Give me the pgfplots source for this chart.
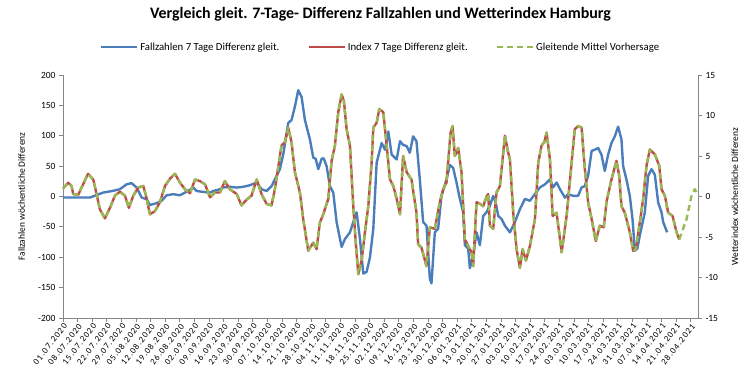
\documentclass[border=0pt]{standalone}
\usepackage{fontspec}
\setmainfont{Carlito}
\usepackage{pgfplots}
\pgfplotsset{compat=1.18}
\usepackage{pgfplotstable}
\definecolor{cblue}{HTML}{4A7EBB}
\definecolor{cred}{HTML}{BE4B48}
\definecolor{cgreen}{HTML}{98B954}
\definecolor{caxis}{HTML}{868686}

\pgfplotstableread{
day val
0 -1.6
5 -1.6
13 -1.6
19.3 6.5
24 9.3
27.3 12
30.5 20
32.9 22
35.3 14.7
37.7 -1.6
40.1 -4.4
41.7 -14
44.9 -11
47.3 -7
49.7 2
52.9 3.8
56.1 2
58.5 6.5
60.9 11
62.5 14.7
64.1 9
67.3 7.6
70.5 6.5
72 9
75.3 12
76.8 14.7
80 16
83.3 14.7
86.4 16
89.6 18.5
92.9 23
95.2 12
97.6 9
100 17
102.4 34
104 45
105.6 69
108 121
109.6 126
111.2 148
112.8 175
114.4 164
116 126
118.4 94
120 64
121.2 62
122.4 45
124 62
125 63
126.4 50
128 17
129.6 6.5
131.2 -42
133.6 -83
135.2 -70
137.6 -59
139.2 -42
140.8 -26
142.4 -70
144 -127
145.6 -124
147.2 -100
148.8 -53
150.4 55.6
152.8 88
154.4 77
156 107
157.6 69
160 61
161.6 91
163.1 85
164.8 83
166.3 72
167.9 99
169.5 91
171.1 28
172.7 -42
174.3 -48
175.9 -135
176.7 -143
178.3 -59
179.9 -53
181.5 1
183.9 28
185.5 52
187.1 47
188.7 23
190.3 -4
191.9 -26
192.7 -80
194.3 -86
195.1 -118
196.7 -97
198.3 -59
199.9 -80
201.5 -32
203.1 -26
204.7 -15
206.3 1
207.5 -10
208.7 -32
210.3 -37
211.9 -48
214.3 -59
216.7 -42
219.1 -21
221.5 -4
223.9 -7
226.3 4
228.7 15
231.1 20
233.5 28
235 15
236.7 23
238.3 12
240.7 -2
242.2 4
244.6 1
247 1
248.7 15
250.2 17
251.8 34
253.5 75
255 77
256.6 80
258.2 69
259.8 42
261.4 69
263 88
264.6 99
266.2 115
267.8 94
268.6 50
270.2 28
271.8 1
273.1 -37
274.2 -89
275.4 -86
276.6 -64
279 -26
280.6 34
282.2 45
283.8 36
285.4 -10
287 -26
287.8 -42
289.7 -59
}\faelle

\pgfplotstableread{
day val
0 1.0
2.5 1.7
4.1 1.3
4.9 0.3
7.3 0.2
8.9 1.1
12 2.8
14.5 2.1
16.1 0.3
17.7 -1.6
20.1 -2.7
22.5 -1.4
24.9 0.1
27.3 0.6
29.7 0.1
31.6 -1.4
33.7 0.1
36.1 1.1
38.5 1.3
39.8 0.1
41.7 -2.2
44.1 -1.8
46.5 -0.7
48.9 1.3
51.3 2.2
53.7 2.8
56.1 1.7
58.5 0.9
60.9 0.4
63.3 2.1
65.7 1.9
68.1 1.5
70.5 -0.1
72.9 0.5
75.3 0.5
77.6 1.9
80 0.9
83.3 0.3
85.6 -1.1
88 -0.4
90.4 0.1
92.9 2.1
95.2 0.3
97.6 -0.9
100 -1.1
101.6 0.9
103.2 3.6
104.8 6.3
106.4 6.7
108 8.5
109.6 6.7
111.2 3
113.6 0.5
115.2 -2.8
117.6 -6.7
120 -5.7
121.6 -6.5
123.2 -3.2
124.8 -2.2
127.2 -0.3
128.8 4.4
130.4 6.3
132 10.4
133.6 12.6
134.7 11.8
136 8.3
137.6 6.3
139.2 -1.2
140.5 -6.1
141.6 -9.6
143.2 -7.9
144.8 -4.4
146.4 -1.2
148 4.2
148.8 8.5
150.4 9.1
151.7 10.8
153.6 10.4
155.2 6.3
156.8 2.1
158.4 1.3
160 -0.3
161.6 -2.2
163.1 5
164.8 3
167.1 2.1
169.5 -2
170.3 -5.9
171.9 -6.3
174.3 -8.6
175.9 -3.8
178.3 -4
180.7 -0.7
182.3 0.9
183.9 1.7
185.8 7.8
186.8 8.7
187.9 5
189.5 6
191.1 3
192.7 -5.3
194.3 -6.1
195.9 -6.9
196.7 -8.6
198.3 -0.7
199.9 -0.9
201.5 -1.2
203.1 0
203.9 0.3
204.7 -3.6
206.3 -4
207.9 0.5
209.5 1.3
211.1 5.4
211.9 7.5
213.5 5.4
214.3 4.6
215.9 -2
217.5 -6.5
219.1 -8.8
220.4 -6.5
222 -7.9
223.9 -6.1
226.3 -2.8
227.9 4.2
229.5 6.3
230.8 6.7
231.9 7.9
233.5 4.6
234.8 -2.4
236.7 -2
239.1 -6.9
241.5 -2.4
243.9 4.2
245.4 8.3
247 8.7
248.7 8.5
249.1 7.1
250.2 3.5
251.8 -0.7
253.5 -2.8
255.5 -5.5
257.4 -3.6
259.3 -3.8
260.6 -0.7
263 2.1
265.4 4.4
266.7 2.6
267.8 -1.2
269.4 -2
271.8 -4.4
273.4 -6.7
274.7 -6.5
276.6 -3.2
278.2 -0.3
279.8 3.8
281.4 5.8
283.8 5.2
285.9 3.8
287 0.9
288.6 0.1
290.2 -2
292.3 -2.4
294.2 -4.4
295.5 -5.3
}\index

\pgfplotstableread{
day val
295.5 -5.3
299 -2.8
301.4 0.1
302.9 0.9
304.5 0.3
}\vorhersage

\begin{document}
\begin{tikzpicture}
\useasboundingbox (-63bp,-65bp) rectangle (693bp,318bp);
\pgfplotsset{
  every axis/.append style={
    scale only axis, width=635bp, height=243bp,
    xmin=0, xmax=304.5,
    axis line style={caxis, line width=0.8pt},
    tick style={caxis, line width=0.8pt},
    major tick length=4bp,
    tick align=outside,
    tick label style={font=\fontsize{9.5}{11}\selectfont},
    label style={font=\fontsize{9.5}{11}\selectfont},
    /pgf/number format/assume math mode=true,
    clip=false,
  },
}
\begin{axis}[
  axis x line*=bottom, axis y line*=left,
  ymin=-200, ymax=200, ytick={-200,-150,...,200},
  xtick={0,7,...,301},
  xticklabels={01.07.2020,08.07.2020,15.07.2020,22.07.2020,29.07.2020,05.08.2020,12.08.2020,19.08.2020,26.08.2020,02.09.2020,09.09.2020,16.09.2020,23.09.2020,30.09.2020,07.10.2020,14.10.2020,21.10.2020,28.10.2020,04.11.2020,11.11.2020,18.11.2020,25.11.2020,02.12.2020,09.12.2020,16.12.2020,23.12.2020,30.12.2020,06.01.2021,13.01.2021,20.01.2021,27.01.2021,03.02.2021,10.02.2021,17.02.2021,24.02.2021,03.03.2021,10.03.2021,17.03.2021,24.03.2021,31.03.2021,07.04.2021,14.04.2021,21.04.2021,28.04.2021},
  x tick label style={rotate=52, anchor=north east, inner sep=0.5pt, font=\fontsize{8.8}{9}\selectfont\addfontfeature{LetterSpace=12}},
  ylabel={Fallzahlen wöchentliche Differenz},
  ylabel style={at={(axis description cs:-0.065,0.5)}, anchor=center, rotate=0},
  title={Vergleich gleit. 7-Tage- Differenz Fallzahlen und Wetterindex Hamburg},
  title style={at={(axis description cs:0.5,1.226)}, anchor=center, font=\bfseries\fontsize{16}{18}\selectfont},
  legend columns=3,
  legend style={draw=none, at={(axis description cs:0.5,1.115)}, anchor=center, font=\fontsize{10.8}{12}\selectfont,
    /tikz/every even column/.append style={column sep=26bp}},
  legend image code/.code={\draw[#1] (0bp,0bp) -- (36bp,0bp);},
]
\addplot[cblue, line width=2.4pt, line join=round] table[x=day, y=val] {\faelle};
\addlegendentry{Fallzahlen 7 Tage Differenz gleit.}
\addlegendimage{cred, line width=2.4pt}
\addlegendentry{Index 7 Tage Differenz gleit.}
\addlegendimage{cgreen, line width=2.4pt, dash pattern=on 6bp off 4bp}
\addlegendentry{Gleitende Mittel Vorhersage}
\end{axis}
\begin{axis}[
  axis y line*=right, axis x line=none,
  ymin=-15, ymax=15, ytick={-15,-10,...,15},
  ylabel={Wetterindex wöchentliche Differenz},
  ylabel style={at={(axis description cs:1.058,0.5)}, anchor=center, rotate=0},
]
\addplot[cred, line width=2.4pt, line join=round] table[x=day, y=val] {\index};
\addplot[cgreen, line width=2.4pt, line join=round, dash pattern=on 6bp off 4bp] table[x=day, y=val] {\index};
\addplot[cgreen, line width=2.4pt, line join=round, dash pattern=on 6bp off 4bp] table[x=day, y=val] {\vorhersage};
\end{axis}
\end{tikzpicture}
\end{document}
